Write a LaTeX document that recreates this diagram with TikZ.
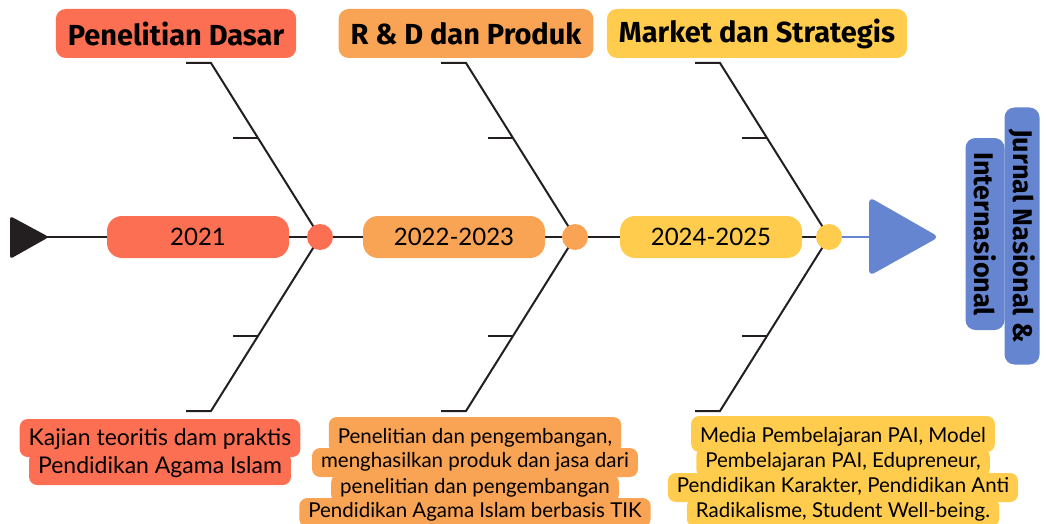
\documentclass[tikz,border=0pt]{standalone}
\usepackage{fontspec}
\setmainfont{Lato}
\newfontfamily\headfont{Fira Sans}
\usetikzlibrary{backgrounds}
\definecolor{coral}{RGB}{253,111,82}
\definecolor{apricot}{RGB}{249,163,84}
\definecolor{sunny}{RGB}{255,204,78}
\definecolor{jblue}{RGB}{101,133,209}
\definecolor{ink}{RGB}{35,31,32}
\tikzset{
  head/.style={fill=#1,rounded corners=10pt,inner xsep=12pt,minimum height=49pt,
    font=\headfont\bfseries\fontsize{29}{34}\selectfont},
  pill/.style={fill=#1,rounded corners=15pt,minimum width=182pt,minimum height=42pt,
    font=\fontsize{24}{28}\selectfont},
  joint/.style={fill=#1,circle,minimum size=26pt,inner sep=0pt},
  bone/.style={ink,line width=2pt},
  note/.style={fill=#1,rounded corners=8pt,inner xsep=9pt,inner ysep=3pt,anchor=base,
    text height=16pt,text depth=7pt,font=\fontsize{20.5}{25}\selectfont},
  bignote/.style={note=#1,text height=18pt,text depth=9pt,font=\fontsize{23}{28}\selectfont},
  firstline/.style={text height=23pt},
  sidebox/.style={fill=jblue,rounded corners=10pt,rotate=-90,inner ysep=0pt,
    font=\headfont\bfseries\fontsize{27}{32}\selectfont}
}

\begin{document}
\begin{tikzpicture}[x=1pt,y=-1pt]
   \useasboundingbox (0,0) rectangle (1046,524);
   % tail and head of the spine
   \fill[ink,rounded corners=3pt] (10,216) -- (49,237) -- (10,259) -- cycle;
   \coordinate (tail) at (47,237);
   \fill[jblue,rounded corners=6pt] (869,197) -- (939,237) -- (869,276) -- cycle;
   \coordinate (goal) at (870,237);
   % years on the spine
   \node[pill=coral] (p1) at (198,237) {2021};
   \node[pill=apricot] (p2) at (454,237) {2022-2023};
   \node[pill=sunny] (p3) at (711,237) {2024-2025};
   \node[joint=coral] (j1) at (320,237) {};
   \node[joint=apricot] (j2) at (575,237) {};
   \node[joint=sunny] (j3) at (829,237) {};
   % headings
   \node[head=coral] (h1) at (176,33.5) {Penelitian Dasar};
   \node[head=apricot] (h2) at (466,33.5) {R \& D dan Produk};
   \node[head=sunny] (h3) at (757,33.5) {Market dan Strategis};
   % output
   \node[sidebox,minimum height=39pt,minimum width=192pt] (out2) at (985,234) {Internasional};
   \node[sidebox,minimum height=35pt,minimum width=257pt] (out1) at (1022,236) {Jurnal Nasional \&};
   % notes under the bones
   \node[bignote=coral,firstline] (n11) at (160,445) {Kajian teoritis dam praktis};
   \node[bignote=coral] (n12) at (160,473) {Pendidikan Agama Islam};
   \node[note=apricot,firstline] (n21) at (475,443) {Penelitian dan pengembangan,};
   \node[note=apricot] (n22) at (475,467) {menghasilkan produk dan jasa dari};
   \node[note=apricot] (n23) at (475,493) {penelitian dan pengembangan};
   \node[note=apricot] (n24) at (475,517) {Pendidikan Agama Islam berbasis TIK};
   \node[note=sunny,firstline] (n31) at (843,442) {Media Pembelajaran PAI, Model};
   \node[note=sunny] (n32) at (843,467) {Pembelajaran PAI, Edupreneur,};
   \node[note=sunny] (n33) at (843,492) {Pendidikan Karakter, Pendidikan Anti};
   \node[note=sunny] (n34) at (843,517) {Radikalisme, Student Well-being.};
   \begin{pgfonlayer}{background}
   \draw[ink,line width=2pt] (tail) -- (j3.center);
   \draw[jblue,line width=1.5pt] (j3.center) -- (goal);
   % bones
   \draw[bone] (j1.center) -- ++(-109,-174) -- ++(-25,0);
   \draw[bone] (j1.center) ++(-62,-99) -- ++(-25,0);
   \draw[bone] (j1.center) -- ++(-109,174) -- ++(-25,0);
   \draw[bone] (j1.center) ++(-62,99) -- ++(-25,0);
   \draw[bone] (j2.center) -- ++(-109,-174) -- ++(-25,0);
   \draw[bone] (j2.center) ++(-62,-99) -- ++(-25,0);
   \draw[bone] (j2.center) -- ++(-109,174) -- ++(-25,0);
   \draw[bone] (j2.center) ++(-62,99) -- ++(-25,0);
   \draw[bone] (j3.center) -- ++(-109,-174) -- ++(-25,0);
   \draw[bone] (j3.center) ++(-62,-99) -- ++(-25,0);
   \draw[bone] (j3.center) -- ++(-109,174) -- ++(-25,0);
   \draw[bone] (j3.center) ++(-62,99) -- ++(-25,0);
   \end{pgfonlayer}
\end{tikzpicture}
\end{document}
